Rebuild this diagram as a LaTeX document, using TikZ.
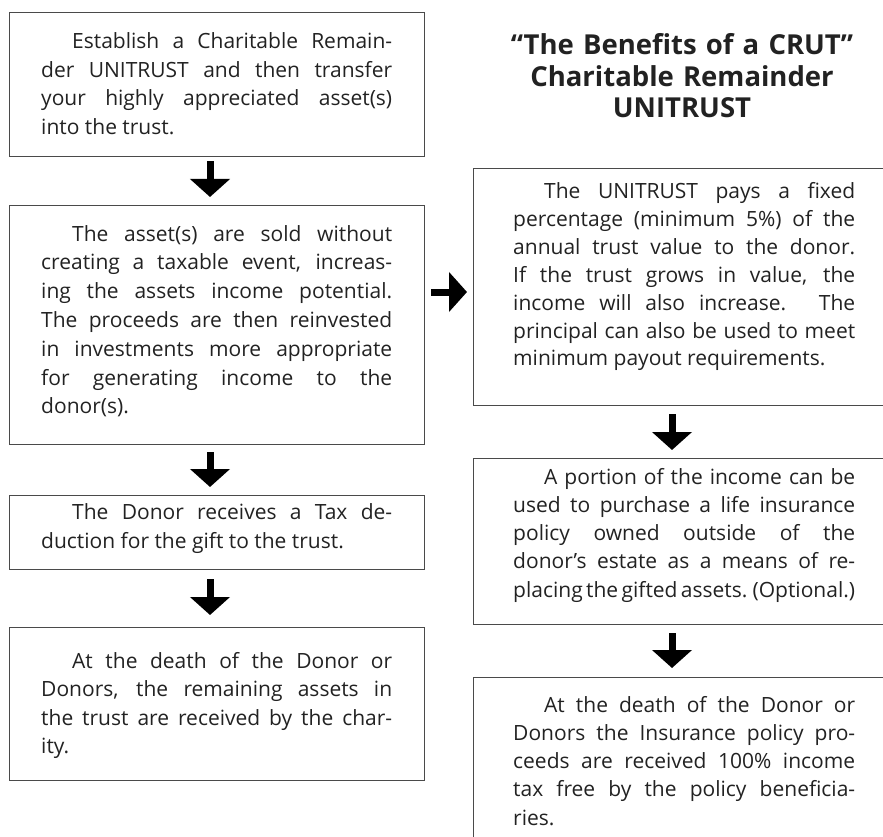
\documentclass[tikz,border=0pt]{standalone}
\usepackage{fontspec}
\setmainfont{Open Sans}
\usetikzlibrary{arrows.meta}
\definecolor{ink}{HTML}{222222}
\definecolor{frame}{HTML}{4A4A4A}
\newcommand{\bodyfont}[1]{\fontsize{21}{#1}\selectfont}
\newcommand{\ind}{\hspace*{31pt}}
\newcommand{\tightline}[1]{{\spaceskip=0.16em plus 1em minus 0.02em\relax #1}}
\tikzset{
  box/.style={draw=frame, line width=1.2pt, rectangle, inner sep=0pt, anchor=north west},
  txt/.style={anchor=base west, inner sep=0pt, text=ink, align=justify, font=\bodyfont{28.5}},
  ltxt/.style={txt, text width=351pt},
  rtxt/.style={txt, text width=342pt},
  flow/.style={line width=7pt, draw=black, -{Triangle[width=39pt,length=18pt]}},
}
\begin{document}
\tolerance=10000\relax
\hyphenpenalty=10000\relax
\begin{tikzpicture}[x=1pt,y=-1pt]
\useasboundingbox (0,0) rectangle (883,837);
\clip (0,0) rectangle (883,837);

% left column boxes
\node[box, minimum width=415, minimum height=144] (b1) at (9,12) {};
\node[box, minimum width=415, minimum height=239] (b2) at (9,205) {};
\node[box, minimum width=415, minimum height=74]  (b3) at (9,495) {};
\node[box, minimum width=415, minimum height=153] (b4) at (9,627) {};
% right column boxes
\node[box, minimum width=427, minimum height=237] (r1) at (473,168) {};
\node[box, minimum width=427, minimum height=166] (r2) at (473,458) {};
\node[box, minimum width=427, minimum height=223] (r3) at (473,677) {};

% title
\node[anchor=base, inner sep=0pt, text width=400pt, align=center, text=ink,
      font=\bfseries\fontsize{27.5}{31.5}\selectfont] (title) at (682,55)
  {“The Benefits of a CRUT”\\Charitable Remainder\\UNITRUST};

% texts
\node[ltxt] (t1) at ([shift={(32,37)}]b1.north west)
  {\ind Establish a Charitable Remain-\linebreak
   der UNITRUST and then transfer\linebreak
   your highly appreciated asset(s)\linebreak
   into the trust.};
\node[ltxt, font=\bodyfont{28.8}] (t2) at ([shift={(32,36)}]b2.north west)
  {\ind The asset(s) are sold without\linebreak
   creating a taxable event, increas-\linebreak
   ing the assets income potential.\linebreak
   The proceeds are then reinvested\linebreak
   in investments more appropriate\linebreak
   for generating income to the\linebreak
   donor(s).};
\node[ltxt, font=\bodyfont{29}] (t3) at ([shift={(32,24)}]b3.north west)
  {\ind The Donor receives a Tax de-\linebreak
   duction for the gift to the trust.};
\node[ltxt] (t4) at ([shift={(32,41)}]b4.north west)
  {\ind At the death of the Donor or\linebreak
   Donors, the remaining assets in\linebreak
   the trust are received by the char-\linebreak
   ity.};
\node[rtxt, font=\bodyfont{27.8}] (u1) at ([shift={(40,31)}]r1.north west)
  {\ind The UNITRUST pays a fixed\linebreak
   percentage (minimum 5\%) of the\linebreak
   annual trust value to the donor.\linebreak
   If the trust grows in value, the\linebreak
   income will also increase. The\linebreak
   \tightline{principal can also be used to meet}\linebreak
   minimum payout requirements.};
\node[rtxt, font=\bodyfont{28.3}] (u2) at ([shift={(40,26)}]r2.north west)
  {\ind A portion of the income can be\linebreak
   used to purchase a life insurance\linebreak
   policy owned outside of the\linebreak
   donor’s estate as a means of re-\linebreak
   \tightline{placing the gifted assets. (Optional.)}};
\node[rtxt, font=\bodyfont{28.3}] (u3) at ([shift={(40,35)}]r3.north west)
  {\ind At the death of the Donor or\linebreak
   Donors the Insurance policy pro-\linebreak
   ceeds are received 100\% income\linebreak
   tax free by the policy beneficia-\linebreak
   ries.};

% connectors
\coordinate (cl) at (210,0);
\coordinate (cr) at (672,0);
\coordinate (ch) at (0,292);
\draw[flow, shorten <=4pt, shorten >=8pt] (b1.south -| cl) -- (b2.north -| cl);
\draw[flow, shorten <=7pt, shorten >=8pt] (b2.south -| cl) -- (b3.north -| cl);
\draw[flow, shorten <=9pt, shorten >=12pt] (b3.south -| cl) -- (b4.north -| cl);
\draw[flow, shorten <=8pt, shorten >=8pt] (r1.south -| cr) -- (r2.north -| cr);
\draw[flow, shorten <=8pt, shorten >=9pt] (r2.south -| cr) -- (r3.north -| cr);
\draw[flow, shorten <=6pt, shorten >=6pt] (b2.east |- ch) -- (r1.west |- ch);
\end{tikzpicture}
\end{document}
